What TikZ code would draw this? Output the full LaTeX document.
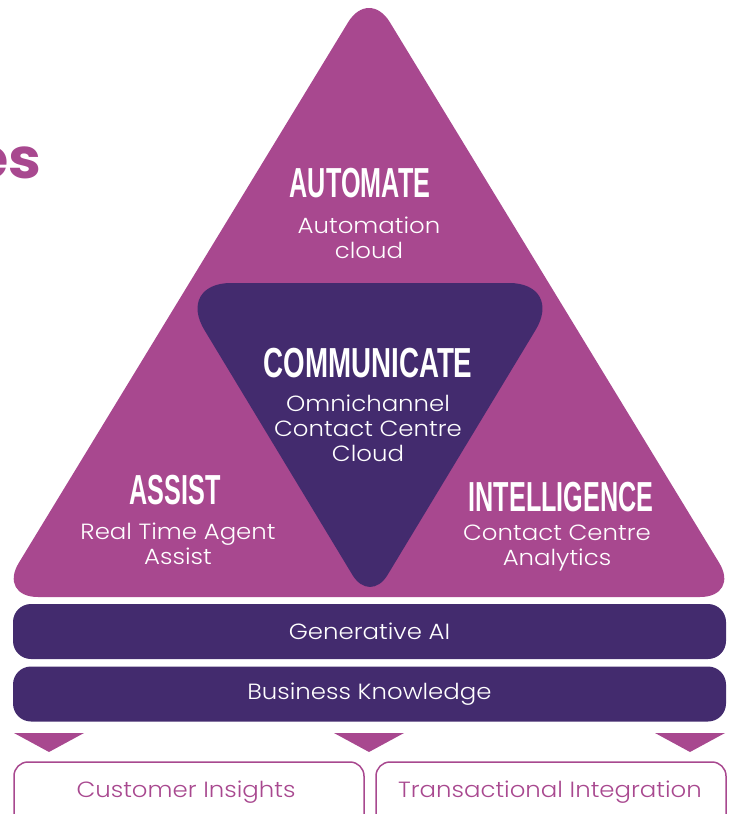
\documentclass[tikz,border=0pt]{standalone}
\usepackage{graphicx}
\usepackage{fontspec}
\setmainfont{Poppins Light}[FakeStretch=1.11]
\newfontfamily\titlefont{Poppins}[FakeStretch=1.05]
\newfontfamily\headfont[FakeStretch=0.6]{Liberation Sans Bold}
\definecolor{pinkc}{RGB}{168,72,143}
\definecolor{darkc}{RGB}{67,43,110}
\tikzset{
  head/.style={text=white,font=\headfont\fontsize{42}{42}\selectfont,inner sep=0pt},
  body/.style={text=white,font=\fontsize{22}{25}\selectfont,align=center,inner sep=0pt},
  bar/.style={fill=darkc,rounded corners=18pt,minimum width=713pt,minimum height=55pt,inner sep=0pt,text=white,font=\fontsize{22}{25}\selectfont},
  outbox/.style={draw=pinkc,line width=1.5pt,rounded corners=14pt,minimum width=350pt,minimum height=72pt,inner sep=0pt},
  outtext/.style={text=pinkc,font=\fontsize{22}{25}\selectfont,inner sep=0pt},
  marker/.style={fill=pinkc}
}
\begin{document}
\begin{tikzpicture}[x=1pt,y=-1pt]
\useasboundingbox (0,0) rectangle (734,814);
\clip (0,0) rectangle (734,814);
% title fragment
\node[text=pinkc,font=\titlefont\bfseries\fontsize{56}{56}\selectfont,anchor=base east,inner sep=0pt] (title) at (42,178) {es};
% outer triangle
\fill[pinkc,rounded corners=40pt] (369,597) -- (740,597) -- (369,-12) -- (-2,597) -- cycle;
% inner triangle
\fill[darkc] (370,283) [rounded corners=55pt] -- (564,283) [rounded corners=34pt] -- (370,604) [rounded corners=55pt] -- (176,283) -- cycle;
% headings and texts
\node[head] (automate) at (360,183) {AUTOMATE};
\node[body] (automatet) at (369,238) {Automation\\cloud};
\node[head] (communicate) at (368,363) {\scalebox{1.1}[1]{COMMUNICATE}};
\node[body] (communicatet) at (368,428) {Omnichannel\\Contact Centre\\Cloud};
\node[head] (assist) at (175,490) {ASSIST};
\node[body] (assistt) at (178,544) {Real Time Agent\\Assist};
\node[head] (intel) at (561,497) {INTELLIGENCE};
\node[body] (intelt) at (557,548) {Contact Centre\\Analytics};
% bars
\node[bar] (genai) at (369.5,631.5) {Generative AI};
\node[bar] (bk) at (369.5,694) {Business Knowledge};
% markers
\fill[marker] (14,733) -- (84,733) -- (49,752) -- cycle;
\fill[marker] (334,733) -- (404,733) -- (369,752) -- cycle;
\fill[marker] (655,733) -- (725,733) -- (690,752) -- cycle;
% output boxes
\node[outbox] (ci) at (189,798) {};
\node[outbox] (ti) at (551,798) {};
\node[outtext] (cit) at (186,792) {Customer Insights};
\node[outtext] (tit) at (550,792) {Transactional Integration};
\end{tikzpicture}
\end{document}
